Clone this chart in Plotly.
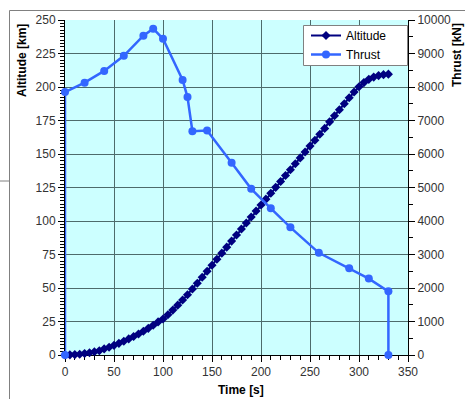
import plotly.graph_objects as go

# ---- data ----
alt_time = list(range(0, 335, 5))
altitude = [0, 0.1, 0.3, 0.6, 1.1, 1.7, 2.4, 3.2, 4.6, 5.8,
            7.2, 8.7, 10.3, 12.0, 13.8, 15.7, 17.7, 19.9, 22.2, 24.7,
            26.9, 30.0, 33.5, 37.2, 41.0, 45.0, 49.2, 53.6, 58.0, 62.5,
            67.0, 71.5, 76.0, 80.5, 85.0, 89.5, 94.0, 98.5, 103.0, 107.5,
            111.9, 116.3, 120.7, 125.1, 129.5, 133.9, 138.3, 142.7, 147.1, 151.5,
            155.9, 160.3, 164.7, 169.1, 174.0, 178.5, 183.0, 187.5, 192.0, 196.3,
            200.2, 203.3, 205.7, 207.4, 208.5, 209.2, 209.6]

thrust_time = [0, 0, 20, 40, 60, 80, 90, 100, 120, 125, 130, 145, 170, 190,
               210, 230, 259, 290, 310, 330, 330]
thrust = [0, 7850, 8130, 8480, 8930, 9530, 9740, 9440, 8210, 7700, 6680, 6700,
          5740, 4960, 4380, 3810, 3050, 2590, 2280, 1900, 0]

x_ticks = [0, 50, 100, 150, 200, 250, 300, 350]
y_ticks = [0, 25, 50, 75, 100, 125, 150, 175, 200, 225, 250]
y2_ticks = [0, 1000, 2000, 3000, 4000, 5000, 6000, 7000, 8000, 9000, 10000]

# ---- layout geometry (pixels) ----
W, H = 465, 399
L, R, T, B = 65, 57, 20, 44
PW, PH = W - L - R, H - T - B


def px(x):
    return (x - L) / PW


def py(y):
    return (H - B - y) / PH


FONT = "Liberation Sans, Arial, sans-serif"
GRID = "#4d6b6b"

fig = go.Figure()
fig.add_trace(go.Scatter(
    x=alt_time, y=altitude, name="Altitude", mode="lines+markers",
    line=dict(color="#000080", width=2),
    marker=dict(symbol="diamond", size=7, color="#000080"),
    cliponaxis=False,
))
fig.add_trace(go.Scatter(
    x=thrust_time, y=thrust, name="Thrust", mode="lines+markers", yaxis="y2",
    line=dict(color="#3366ff", width=2.5),
    marker=dict(symbol="circle", size=8, color="#3366ff"),
    cliponaxis=False,
))

axis_common = dict(
    showline=True, linecolor="black", linewidth=1,
    ticks="outside", ticklen=6, tickcolor="black", tickwidth=1,
    tickfont=dict(family=FONT, size=12, color="#333333"),
    zeroline=False, layer="below traces",
)

fig.update_layout(
    width=W, height=H,
    margin=dict(l=L, r=R, t=T, b=B, autoexpand=False),
    paper_bgcolor="white", plot_bgcolor="#ccffff",
    font=dict(family=FONT, size=12, color="black"),
    showlegend=True,
    legend=dict(
        x=px(306), xanchor="left", y=py(21), yanchor="top",
        bgcolor="rgba(0,0,0,0)", borderwidth=0,
        font=dict(family=FONT, size=12, color="black"),
        tracegroupgap=0,
    ),
    xaxis=dict(
        range=[0, 350], tickvals=x_ticks, ticktext=[str(v) for v in x_ticks],
        showgrid=True, gridcolor=GRID, gridwidth=1,
        minor=dict(dtick=10, ticks="outside", ticklen=4, tickcolor="black", showgrid=False),
        **axis_common,
    ),
    yaxis=dict(
        range=[0, 250], tickvals=y_ticks, ticktext=[str(v) for v in y_ticks],
        showgrid=True, gridcolor=GRID, gridwidth=1,
        minor=dict(dtick=2.5, ticks="outside", ticklen=4, tickcolor="black", showgrid=False),
        **axis_common,
    ),
    yaxis2=dict(
        range=[0, 10000], tickvals=y2_ticks, ticktext=[str(v) for v in y2_ticks],
        overlaying="y", side="right", showgrid=False,
        minor=dict(dtick=500, ticks="outside", ticklen=4, tickcolor="black", showgrid=False),
        **axis_common,
    ),
    annotations=[
        dict(text="<b>Altitude [km]</b>", xref="paper", yref="paper",
             x=px(22), y=py(60), xanchor="center", yanchor="middle",
             textangle=-90, showarrow=False,
             font=dict(family=FONT, size=12, color="black")),
        dict(text="<b>Thrust [kN]</b>", xref="paper", yref="paper",
             x=px(457), y=py(55), xanchor="center", yanchor="middle",
             textangle=-90, showarrow=False,
             font=dict(family=FONT, size=12, color="black")),
        dict(text="<b>Time [s]</b>", xref="paper", yref="paper",
             x=px(241), y=py(390), xanchor="center", yanchor="middle",
             showarrow=False,
             font=dict(family=FONT, size=12, color="black")),
    ],
    shapes=[
        dict(type="rect", xref="paper", yref="paper",
             x0=px(9.5), y0=py(10.5), x1=px(480), y1=py(420),
             line=dict(color="#808080", width=1), layer="below"),
        dict(type="line", xref="paper", yref="paper",
             x0=px(0), y0=py(181), x1=px(9), y1=py(181),
             line=dict(color="#808080", width=1)),
        dict(type="rect", xref="paper", yref="paper",
             x0=px(303.5), y0=py(25.5), x1=px(407.5), y1=py(65.5),
             fillcolor="white", line=dict(color="#808080", width=1), layer="above"),
    ],
)

fig.write_html("out.html")
